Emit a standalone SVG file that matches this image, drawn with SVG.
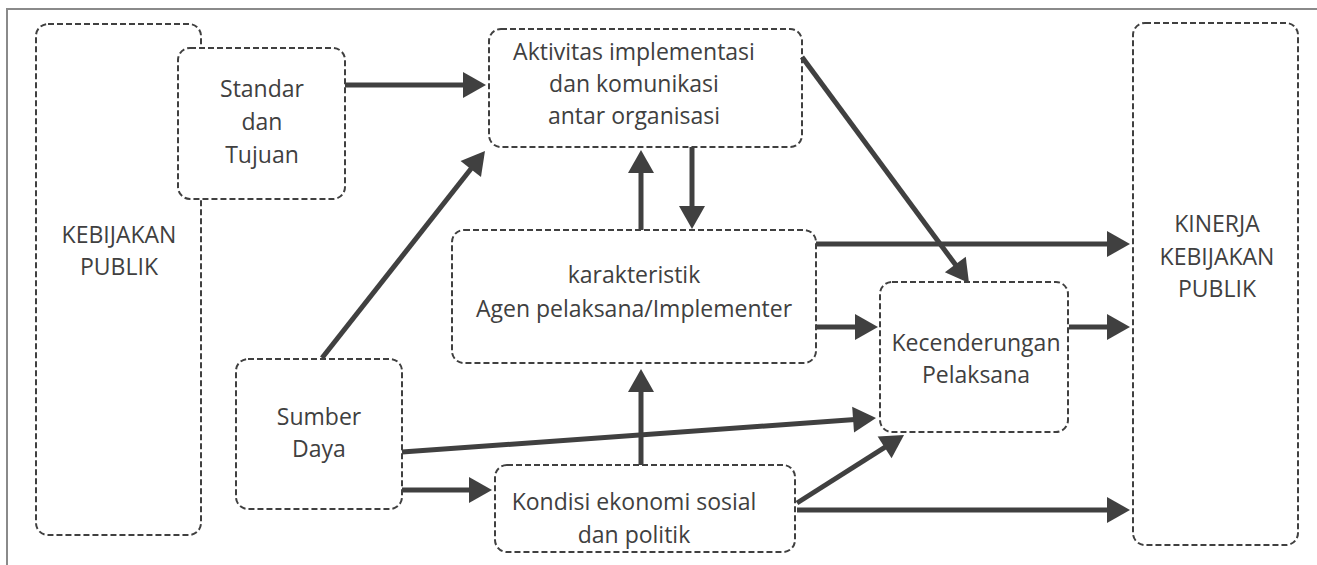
<svg xmlns="http://www.w3.org/2000/svg" width="1317" height="565" viewBox="0 0 1317 565">
<style>
.frame{fill:none;stroke:#8a8a8a;stroke-width:2}
.box{fill:#fff;stroke:#404040;stroke-width:2;stroke-dasharray:6 3}
.lbl{font-family:"Open Sans","Liberation Sans",sans-serif;font-size:23px;fill:#404040;text-anchor:middle}
.arr{stroke:#404040;stroke-width:5;fill:none;marker-end:url(#ah)}
</style>
<defs>
<marker id="ah" markerUnits="userSpaceOnUse" markerWidth="24" markerHeight="26" refX="2" refY="13" orient="auto" overflow="visible">
<path d="M0,0 L23,13 L0,26 Z" fill="#404040"/>
</marker>
</defs>
<rect class="frame" x="7" y="9" width="1330" height="600"/>
<g id="kebijakan">
<rect class="box" x="36" y="24" width="165" height="511" rx="12"/>
<text class="lbl" x="119" y="243">KEBIJAKAN</text>
<text class="lbl" x="119" y="275">PUBLIK</text>
</g>
<g id="standar">
<rect class="box" x="178" y="48" width="167" height="151" rx="12"/>
<text class="lbl" x="262" y="97">Standar</text>
<text class="lbl" x="262" y="130">dan</text>
<text class="lbl" x="262" y="163">Tujuan</text>
</g>
<g id="aktivitas">
<rect class="box" x="489" y="29" width="313" height="118" rx="12"/>
<text class="lbl" x="634" y="60">Aktivitas implementasi</text>
<text class="lbl" x="634" y="92">dan komunikasi</text>
<text class="lbl" x="634" y="124">antar organisasi</text>
</g>
<g id="karakteristik">
<rect class="box" x="452" y="230" width="364" height="133" rx="12"/>
<text class="lbl" x="634" y="283">karakteristik</text>
<text class="lbl" x="634" y="317">Agen pelaksana/Implementer</text>
</g>
<g id="kecenderungan">
<rect class="box" x="880" y="282" width="188" height="150" rx="12"/>
<text class="lbl" x="976" y="351">Kecenderungan</text>
<text class="lbl" x="976" y="383">Pelaksana</text>
</g>
<g id="kinerja">
<rect class="box" x="1133" y="23" width="165" height="522" rx="12"/>
<text class="lbl" x="1217" y="232">KINERJA</text>
<text class="lbl" x="1217" y="265">KEBIJAKAN</text>
<text class="lbl" x="1217" y="297">PUBLIK</text>
</g>
<g id="sumber">
<rect class="box" x="236" y="359" width="166" height="150" rx="12"/>
<text class="lbl" x="319" y="425">Sumber</text>
<text class="lbl" x="319" y="457">Daya</text>
</g>
<g id="kondisi">
<rect class="box" x="495" y="465" width="300" height="87" rx="12"/>
<text class="lbl" x="634" y="510">Kondisi ekonomi sosial</text>
<text class="lbl" x="634" y="543">dan politik</text>
</g>
<g id="connectors">
<line class="arr" x1="345" y1="85" x2="465" y2="85"/>
<line class="arr" x1="322" y1="358" x2="472" y2="167.5"/>
<line class="arr" x1="641" y1="230" x2="641" y2="171"/>
<line class="arr" x1="692" y1="147" x2="692" y2="208"/>
<line class="arr" x1="802" y1="57" x2="956.5" y2="266.1"/>
<line class="arr" x1="816" y1="244" x2="1109" y2="244"/>
<line class="arr" x1="816" y1="327" x2="857" y2="327"/>
<line class="arr" x1="1069" y1="327" x2="1109" y2="327"/>
<line class="arr" x1="402" y1="452" x2="855.1" y2="419.5"/>
<line class="arr" x1="402" y1="490" x2="471" y2="490"/>
<line class="arr" x1="641" y1="465" x2="641" y2="390"/>
<line class="arr" x1="797" y1="503" x2="886.3" y2="446.3"/>
<line class="arr" x1="797" y1="510" x2="1109" y2="510"/>
</g>
</svg>
